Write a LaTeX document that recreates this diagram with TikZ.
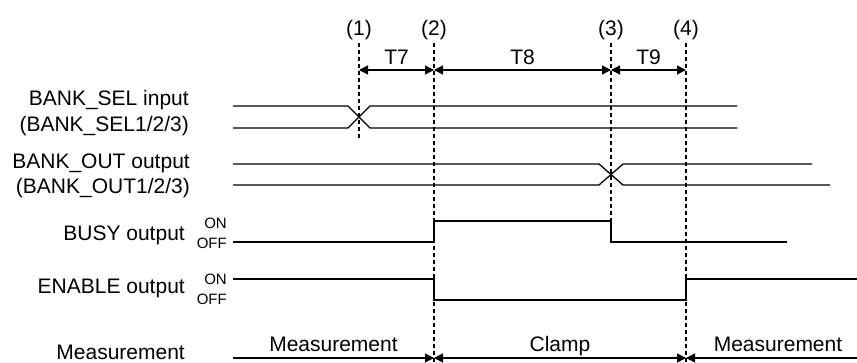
\documentclass[tikz,border=0pt]{standalone}
\usepackage{fontspec}
\setmainfont{Liberation Sans}
\usetikzlibrary{arrows.meta}

\begin{document}
\begin{tikzpicture}[x=1pt, y=-1pt,
    sig/.style={line width=1.3pt},
    tline/.style={line width=1.1pt, dash pattern=on 4pt off 3pt},
    tip/.tip={Triangle[length=9pt, width=9pt]},
    dim/.style={line width=1.3pt, tip-tip},
    lbl/.style={font=\fontsize{21}{24}\selectfont, inner sep=0pt},
    lvl/.style={font=\fontsize{15}{16}\selectfont, inner sep=0pt, anchor=base east},
    state/.style={lbl, anchor=base, yshift=7pt}]
  \useasboundingbox (0,0) rectangle (857,362);

  % time marks
  \foreach \i/\x/\y in {1/359/140, 2/434/362, 3/611/242, 4/686/362}{
    \node[lbl] (m\i) at (\x,30) {(\i)};
    \coordinate (d\i) at (\x,70);
    \coordinate (p\i) at (\x,358);
    \coordinate (b\i) at (\x,\y);
    \draw[tline] (m\i.south) ++(0,3) -- (b\i);
  }
  \draw[dim] (d1) -- node[lbl, above=5pt] (tseven) {T7} (d2);
  \draw[dim] (d2) -- node[lbl, above=5pt] (teight) {T8} (d3);
  \draw[dim] (d3) -- node[lbl, above=5pt] (tnine) {T9} (d4);

  % signal names
  \node[lbl, anchor=base east] (sel) at (189,105) {BANK\_SEL input};
  \node[lbl, anchor=base east] (selno) at (189,131) {(BANK\_SEL1/2/3)};
  \node[lbl, anchor=base east] (out) at (190,168) {BANK\_OUT output};
  \node[lbl, anchor=base east] (outno) at (190,193) {(BANK\_OUT1/2/3)};
  \node[lbl, anchor=base east] (busy) at (185,240) {BUSY output};
  \node[lvl] (busyon) at (227,228) {ON};
  \node[lvl] (busyoff) at (227,248) {OFF};
  \node[lbl, anchor=base east] (enable) at (185,293) {ENABLE output};
  \node[lvl] (enableon) at (227,284) {ON};
  \node[lvl] (enableoff) at (227,304) {OFF};
  \node[lbl, anchor=base east] (meas) at (185,359) {Measurement};

  % waveforms
  \draw[sig] (233,106) -- (348,106) -- (370,128) -- (737,128);
  \draw[sig] (233,128) -- (348,128) -- (370,106) -- (737,106);
  \draw[sig] (233,164) -- (599,164) -- (623,185) -- (830,185);
  \draw[sig] (233,185) -- (599,185) -- (623,164) -- (812,164);
  \draw[sig] (233,242) -- (434,242) -- (434,221) -- (611,221) -- (611,242) -- (787,242);
  \draw[sig] (233,279) -- (434,279) -- (434,300) -- (686,300) -- (686,279) -- (870,279);

  % state arrows
  \coordinate (p0) at (233,358);
  \coordinate (p5) at (870,358);
  \draw[sig, -tip] (p0) -- node[state] (measa) {Measurement} (p2);
  \draw[sig, tip-tip] (p2) -- node[state] (clamp) {Clamp} (p4);
  \draw[sig, tip-] (p4) -- node[state] (measb) {Measurement} (p5);
\end{tikzpicture}
\end{document}
